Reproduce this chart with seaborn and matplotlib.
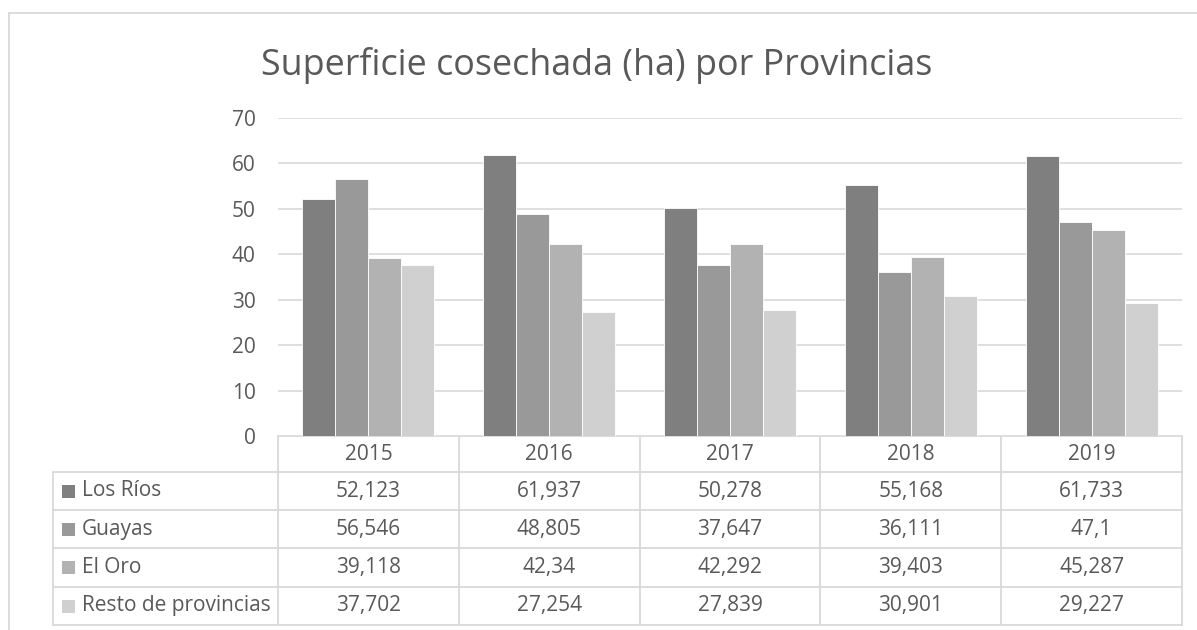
import pandas as pd
import matplotlib
matplotlib.use("Agg")
import matplotlib.pyplot as plt
from matplotlib.patches import Rectangle
import seaborn as sns

years = ["2015", "2016", "2017", "2018", "2019"]
provinces = ["Los Ríos", "Guayas", "El Oro", "Resto de provincias"]
los_rios = [52.123, 61.937, 50.278, 55.168, 61.733]
guayas = [56.546, 48.805, 37.647, 36.111, 47.1]
el_oro = [39.118, 42.34, 42.292, 39.403, 45.287]
resto = [37.702, 27.254, 27.839, 30.901, 29.227]
series = [los_rios, guayas, el_oro, resto]
colors = ["#7f7f7f", "#999999", "#b2b2b2", "#d0d0d0"]

W, H = 1197, 630
TXT = "#595959"
LINE = "#d9d9d9"
FS = 15

rows = []
for prov, vals in zip(provinces, series):
    for yr, v in zip(years, vals):
        rows.append({"Año": yr, "Provincia": prov, "valor": v})
df = pd.DataFrame(rows)

sns.set_theme(style="white")
plt.rcParams["font.family"] = ["Open Sans", "DejaVu Sans"]

fig = plt.figure(figsize=(W / 100, H / 100), dpi=100)

# pixel layout of the plot area
px_left, px_right, px_top, px_bottom = 278, 1182, 118, 436
ax = fig.add_axes([px_left / W, 1 - px_bottom / H,
                   (px_right - px_left) / W, (px_bottom - px_top) / H])
sns.barplot(data=df, x="Año", y="valor", hue="Provincia", hue_order=provinces,
            palette=colors, width=0.73, gap=0, edgecolor="white", linewidth=0.6,
            ax=ax, legend=False)
ax.set_ylim(0, 70)
ax.set_xlim(-0.5, len(years) - 0.5)
ax.set_yticks(range(0, 71, 10))
ax.yaxis.grid(True, color=LINE, linewidth=1.2)
ax.set_axisbelow(True)
ax.set_xticks([])
ax.set_xlabel("")
ax.set_ylabel("")
ax.tick_params(axis="y", length=0, pad=16, labelsize=FS, labelcolor=TXT)
for s in ax.spines.values():
    s.set_visible(False)

# overlay axes in pixel coordinates for title, border and data table
ov = fig.add_axes([0, 0, 1, 1], zorder=-1)
ov.set_xlim(0, W)
ov.set_ylim(H, 0)
ov.axis("off")

# chart border
ov.plot([9, W], [13, 13], color=LINE, lw=1.3)
ov.plot([9, 9], [13, H], color=LINE, lw=1.3)

ov.text(597, 75, "Superficie cosechada (ha) por Provincias", ha="center",
        va="baseline", fontsize=25.8, color=TXT)

# data table grid
col_w = (px_right - px_left) / len(years)
col_edges = [px_left + i * col_w for i in range(len(years) + 1)]
row_edges = [472, 510, 548, 587, 625]
label_left = 53
ov.plot([px_left, px_right], [px_bottom, px_bottom], color=LINE, lw=1.3)
for y in row_edges:
    ov.plot([label_left, px_right], [y, y], color=LINE, lw=1.3)
ov.plot([label_left, label_left], [row_edges[0], row_edges[-1]], color=LINE, lw=1.3)
for x in col_edges:
    ov.plot([x, x], [px_bottom, row_edges[-1]], color=LINE, lw=1.3)

centers = [(col_edges[i] + col_edges[i + 1]) / 2 for i in range(len(years))]
for cx, yr in zip(centers, years):
    ov.text(cx, (px_bottom + row_edges[0]) / 2, yr, ha="center", va="center",
            fontsize=FS, color=TXT)

for r, (prov, vals, c) in enumerate(zip(provinces, series, colors)):
    cy = (row_edges[r] + row_edges[r + 1]) / 2
    ov.add_patch(Rectangle((62, cy - 6.5), 13, 13, color=c, lw=0))
    ov.text(82, cy, prov, ha="left", va="center", fontsize=FS, color=TXT)
    for cx, v in zip(centers, vals):
        ov.text(cx, cy, f"{v:g}".replace(".", ","), ha="center", va="center",
                fontsize=FS, color=TXT)

fig.savefig("out.png", dpi=100)
